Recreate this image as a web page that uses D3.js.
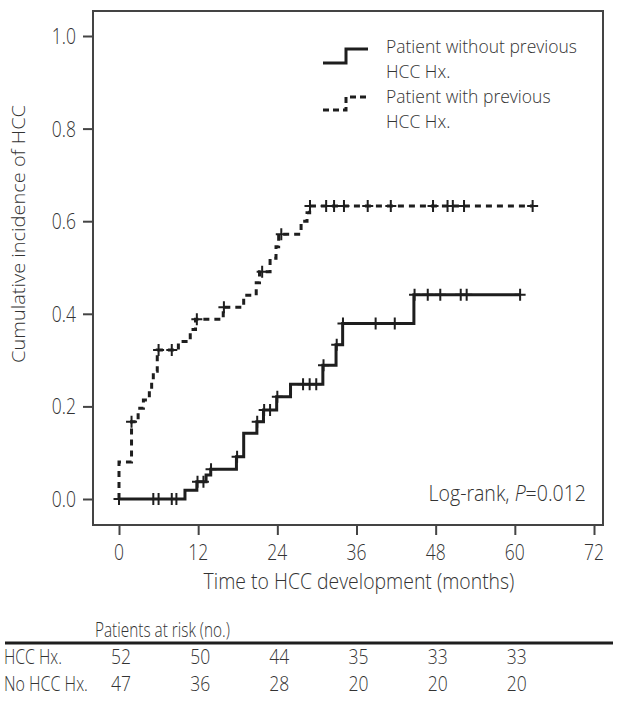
<!DOCTYPE html>
<html><head><meta charset="utf-8">
<script src="https://cdn.jsdelivr.net/npm/d3@7"></script>
<style>
html,body{margin:0;padding:0;background:#fff;}
svg{display:block;}
text{font-family:"Open Sans",sans-serif;font-weight:300;fill:#333;}
</style></head><body>
<svg id="c" width="618" height="708"></svg>
<script>
// ---------- data ----------
const xTicks = [0, 12, 24, 36, 48, 60, 72];
const yTicks = [0, 0.2, 0.4, 0.6, 0.8, 1.0];

// Patient with previous HCC Hx. (dashed): event times (months) and cumulative incidence after each step
const prevT = [0, 0, 1.9, 2.9, 3.7, 4.6, 4.95, 5.2, 5.8, 9.0, 10.8, 11.6, 15.8, 18.9, 20.8, 21.3, 22.9, 23.8, 24.2, 27.6, 28.5, 28.9];
const prevV = [0, 0.080, 0.167, 0.196, 0.214, 0.235, 0.257, 0.276, 0.322, 0.340, 0.366, 0.388, 0.414, 0.440, 0.467, 0.491, 0.520, 0.545, 0.572, 0.600, 0.618, 0.633];
const prevEnd = 62.7;
const prevCensor = [1.9, 6.0, 8.0, 11.8, 15.9, 21.7, 24.6, 28.95, 31.4, 32.6, 34.1, 37.7, 41.2, 47.6, 49.8, 50.6, 52.3, 62.7];

// Patient without previous HCC Hx. (solid)
const noPrevT = [0, 10.0, 11.8, 13.2, 13.9, 17.8, 18.9, 20.9, 21.9, 23.9, 26.0, 30.9, 32.9, 33.9, 44.7];
const noPrevV = [0, 0.019, 0.037, 0.052, 0.064, 0.091, 0.142, 0.167, 0.192, 0.221, 0.248, 0.289, 0.333, 0.379, 0.441];
const noPrevEnd = 60.8;
const noPrevCensor = [0, 5.2, 6.0, 8.0, 8.7, 11.9, 12.8, 13.95, 17.9, 20.95, 22.0, 22.9, 24.0, 27.9, 28.9, 29.9, 31.0, 33.0, 33.95, 38.9, 41.8, 44.8, 46.8, 48.7, 51.8, 52.7, 60.8];

const legendLabels = [["Patient without previous", "HCC Hx."], ["Patient with previous", "HCC Hx."]];
const riskHeader = "Patients at risk (no.)";
const riskGroups = ["HCC Hx.", "No HCC Hx."];
const riskTimes = [0, 12, 24, 36, 48, 60];
const riskPrev = [52, 50, 44, 35, 33, 33];
const riskNoPrev = [47, 36, 28, 20, 20, 20];
const xTitle = "Time to HCC development (months)";
const yTitle = "Cumulative incidence of HCC";

// ---------- layout ----------
const svg = d3.select("#c");
const x = d3.scaleLinear().domain([0, 72]).range([119, 594]);
const y = d3.scaleLinear().domain([0, 1]).range([499, 36]);
const frame = {l: 93, t: 11, r: 603, b: 525};
const FS = 22, FS_LEG = 18, FS_TAB = 19.5;
const ink = "#1e1e1e";

function measure(txt, fs) {
  const p = svg.append("text").attr("font-size", fs || FS).text(txt);
  const w = p.node().getComputedTextLength();
  p.remove();
  return w;
}
const SX = 191 / measure(legendLabels[0][0]);

function label(px, py, txt, anchor, width, fs) {
  fs = fs || FS;
  const sx = width ? width / measure(txt, fs) : SX * FS / fs;
  return svg.append("text")
    .attr("font-size", fs)
    .attr("text-anchor", anchor || "start")
    .attr("transform", `translate(${px},${py}) scale(${sx},1)`)
    .text(txt);
}

// frame
svg.append("rect").attr("x", frame.l).attr("y", frame.t)
  .attr("width", frame.r - frame.l).attr("height", frame.b - frame.t)
  .attr("fill", "none").attr("stroke", "#444").attr("stroke-width", 2);

// axes (ticks)
const yAx = svg.append("g").attr("transform", `translate(${frame.l},0)`)
  .call(d3.axisLeft(y).tickValues(yTicks).tickSize(10).tickFormat(""));
const xAx = svg.append("g").attr("transform", `translate(0,${frame.b})`)
  .call(d3.axisBottom(x).tickValues(xTicks).tickSize(10).tickFormat(""));
[yAx, xAx].forEach(g => { g.select(".domain").remove(); g.selectAll("line").attr("stroke", "#444").attr("stroke-width", 2); });

yTicks.forEach(v => label(76, y(v) + 8, d3.format(".1f")(v), "end"));
xTicks.forEach(v => label(x(v), 560, String(v), "middle"));
label(359, 589, xTitle, "middle", 311);

// y title
const yt = svg.append("text").attr("font-size", FS).attr("text-anchor", "middle").text(yTitle);
const ySc = 258 / yt.node().getComputedTextLength();
yt.attr("transform", `translate(25,234) rotate(-90) scale(${ySc},${SX})`);

// curves
const line = d3.line().x(d => x(d[0])).y(d => y(d[1])).curve(d3.curveStepAfter);
function series(T, V, end, censor, dash) {
  const pts = T.map((t, i) => [t, V[i]]);
  pts.push([end, V[V.length - 1]]);
  svg.append("path").attr("d", line(pts)).attr("fill", "none")
    .attr("stroke", ink).attr("stroke-width", 3)
    .attr("stroke-dasharray", dash ? "6,5" : null);
  censor.forEach(c => {
    let v = 0;
    T.forEach((t, i) => { if (t <= c) v = V[i]; });
    svg.append("path").attr("d", "M-5.5,0H5.5M0,-6V6")
      .attr("transform", `translate(${x(c)},${y(v)})`)
      .attr("stroke", ink).attr("stroke-width", 2).attr("fill", "none");
  });
}
series(noPrevT, noPrevV, noPrevEnd, noPrevCensor, false);
series(prevT, prevV, prevEnd, prevCensor, true);

// legend
svg.append("path").attr("d", "M323,63H346V49H368").attr("fill", "none").attr("stroke", ink).attr("stroke-width", 3);
svg.append("path").attr("d", "M323,110H346V97H368").attr("fill", "none").attr("stroke", ink).attr("stroke-width", 3).attr("stroke-dasharray", "6,4");
const legSX = 191 / measure(legendLabels[0][0], FS_LEG);
[[53, legendLabels[0]], [103, legendLabels[1]]].forEach(([py, lines]) => {
  lines.forEach((s, i) => svg.append("text").attr("font-size", FS_LEG)
    .attr("transform", `translate(386,${py + i * 24.6}) scale(${legSX},1)`).text(s));
});

// log-rank
const lrW = 158 / measure("Log-rank, P=0.012");
const lr = svg.append("text").attr("font-size", FS).attr("text-anchor", "end")
  .attr("transform", `translate(586,501) scale(${lrW},1)`);
lr.append("tspan").text("Log-rank, ");
lr.append("tspan").attr("font-style", "italic").text("P");
lr.append("tspan").text("=0.012");

// risk table
label(95, 637, riskHeader, "start", 135, FS_TAB);
svg.append("line").attr("x1", 5).attr("x2", 613).attr("y1", 643).attr("y2", 643).attr("stroke", ink).attr("stroke-width", 3);
label(4, 664, riskGroups[0], "start", 58, FS_TAB);
label(4, 691, riskGroups[1], "start", 84, FS_TAB);
riskTimes.forEach((t, i) => {
  label(x(t) + 2, 664, String(riskPrev[i]), "middle", null, FS_TAB);
  label(x(t) + 2, 691, String(riskNoPrev[i]), "middle", null, FS_TAB);
});
</script>
</body></html>
